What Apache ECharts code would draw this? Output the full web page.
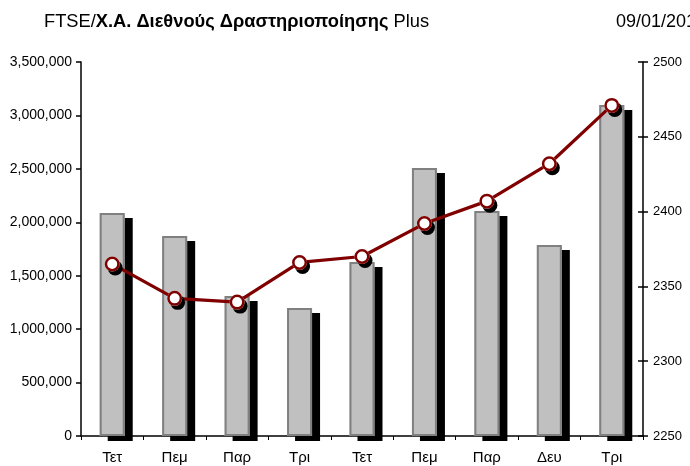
<!DOCTYPE html>
<html><head><meta charset="utf-8">
<script src="https://cdn.jsdelivr.net/npm/echarts@6/dist/echarts.min.js"></script>
<style>html,body{margin:0;padding:0;background:#fff}#c{width:690px;height:466px}</style>
</head><body><div id="c"></div>
<script>
const categories = ['Τετ','Πεμ','Παρ','Τρι','Τετ','Πεμ','Παρ','Δευ','Τρι'];
const volumeValues = [2087000, 1872000, 1310000, 1198000, 1628000, 2508000, 2106000, 1787000, 3098000];
const indexValues = [2365, 2342, 2339.5, 2366, 2370, 2392, 2407, 2432, 2471];
const leftTicks = [0, 500000, 3500000];
const rightTicks = [2250, 50, 2500];

const chart = echarts.init(document.getElementById('c'), null, {renderer:'canvas'});
const fmt = v => v.toLocaleString('en-US');
const FF = 'Liberation Sans, Arial, sans-serif';
chart.setOption({
  animation:false,
  backgroundColor:'#fff',
  title:{
    left:39, top:8,
    text:'{n|FTSE/}{b|Χ.Α. Διεθνούς Δραστηριοποίησης}{n| Plus}',
    textStyle:{rich:{
      n:{fontFamily:FF, fontSize:18.3, fontWeight:'normal', color:'#000'},
      b:{fontFamily:FF, fontSize:18.3, fontWeight:'bold', color:'#000'}
    }}
  },
  graphic:[{type:'text', left:616, top:13, style:{text:'09/01/2018', font:'18px "Liberation Sans", Arial, sans-serif', fill:'#000'}}],
  grid:{left:81, right:47, top:62, bottom:30},
  xAxis:{type:'category', data:categories,
    axisLine:{lineStyle:{color:'#000', width:1.5}},
    axisTick:{show:true, length:4, lineStyle:{color:'#000'}},
    axisLabel:{margin:14, fontSize:15, fontFamily:FF, color:'#000'}},
  yAxis:[
    {type:'value', min:leftTicks[0], max:leftTicks[2], interval:leftTicks[1], position:'left',
      axisLine:{show:true, lineStyle:{color:'#000', width:1.5}},
      axisTick:{show:true, length:5, lineStyle:{color:'#000', width:1.5}},
      splitLine:{show:false},
      axisLabel:{margin:9, formatter:fmt, fontFamily:FF, fontSize:14, color:'#000'}},
    {type:'value', min:rightTicks[0], max:rightTicks[2], interval:rightTicks[1], position:'right',
      axisLine:{show:true, lineStyle:{color:'#000', width:1.5}},
      axisTick:{show:true, length:5, lineStyle:{color:'#000', width:1.5}},
      splitLine:{show:false},
      axisLabel:{margin:10, formatter:v => String(v), fontFamily:FF, fontSize:13, color:'#000'}},
    {type:'value', min:rightTicks[0], max:rightTicks[2], interval:rightTicks[1], position:'right',
      axisLine:{show:false},
      axisTick:{show:true, inside:true, length:5, lineStyle:{color:'#000', width:1.5}},
      splitLine:{show:false}, axisLabel:{show:false}}
  ],
  series:[
    {type:'bar', data:volumeValues, yAxisIndex:0, barWidth:25, z:2,
      itemStyle:{color:'#c0c0c0', borderWidth:0,
        shadowColor:'#000', shadowOffsetX:8, shadowOffsetY:5, shadowBlur:0}},
    {type:'bar', data:volumeValues, yAxisIndex:0, barWidth:25, barGap:'-100%', z:3,
      itemStyle:{color:'rgba(0,0,0,0)', borderColor:'#808080', borderWidth:2}},
    {type:'line', data:indexValues, yAxisIndex:1, z:5,
      lineStyle:{color:'#800000', width:3.2},
      symbol:'circle', symbolSize:15,
      itemStyle:{color:'#fff', borderWidth:0,
        shadowColor:'#000', shadowOffsetX:3, shadowOffsetY:4, shadowBlur:0}},
    {type:'line', data:indexValues, yAxisIndex:1, z:6,
      lineStyle:{width:0, opacity:0},
      symbol:'circle', symbolSize:12.5,
      itemStyle:{color:'rgba(0,0,0,0)', borderColor:'#800000', borderWidth:2.5}}
  ]
});
</script></body></html>
